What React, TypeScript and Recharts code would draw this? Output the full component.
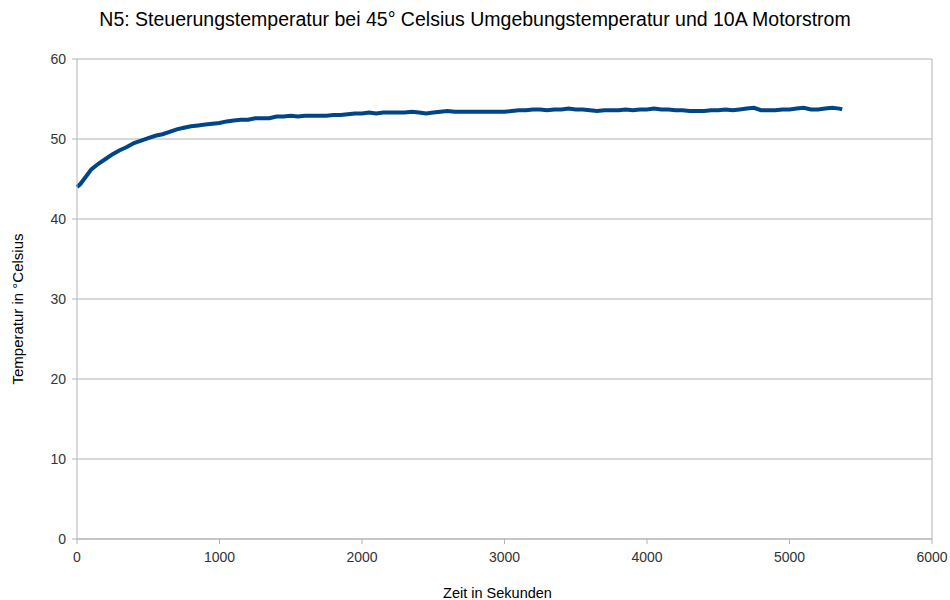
import React from "react";
import { LineChart, Line, XAxis, YAxis, CartesianGrid, ReferenceLine, Label } from "recharts";

const timeSeconds = [
  0, 25, 50, 75, 100, 150, 200, 250, 300, 350, 400, 450, 500, 550, 600, 650, 700, 750, 800, 850,
  900, 950, 1000, 1050, 1100, 1150, 1200, 1250, 1300, 1350, 1400, 1450, 1500, 1550, 1600, 1650,
  1700, 1750, 1800, 1850, 1900, 1950, 2000, 2050, 2100, 2150, 2200, 2250, 2300, 2350, 2400, 2450,
  2500, 2550, 2600, 2650, 2700, 2750, 2800, 2850, 2900, 2950, 3000, 3050, 3100, 3150, 3200, 3250,
  3300, 3350, 3400, 3450, 3500, 3550, 3600, 3650, 3700, 3750, 3800, 3850, 3900, 3950, 4000, 4050,
  4100, 4150, 4200, 4250, 4300, 4350, 4400, 4450, 4500, 4550, 4600, 4650, 4700, 4750, 4800, 4850,
  4900, 4950, 5000, 5050, 5100, 5150, 5200, 5250, 5300, 5350, 5370,
];

const temperature = [
  44.0, 44.4, 45.0, 45.6, 46.2, 46.9, 47.5, 48.1, 48.6, 49.0, 49.5, 49.8, 50.1, 50.4, 50.6, 50.9, 51.2, 51.4, 51.6, 51.7,
  51.8, 51.9, 52.0, 52.2, 52.3, 52.4, 52.4, 52.6, 52.6, 52.6, 52.8, 52.8, 52.9, 52.8, 52.9, 52.9,
  52.9, 52.9, 53.0, 53.0, 53.1, 53.2, 53.2, 53.3, 53.2, 53.3, 53.3, 53.3, 53.3, 53.4, 53.3, 53.2,
  53.3, 53.4, 53.5, 53.4, 53.4, 53.4, 53.4, 53.4, 53.4, 53.4, 53.4, 53.5, 53.6, 53.6, 53.7, 53.7,
  53.6, 53.7, 53.7, 53.8, 53.7, 53.7, 53.6, 53.5, 53.6, 53.6, 53.6, 53.7, 53.6, 53.7, 53.7, 53.8,
  53.7, 53.7, 53.6, 53.6, 53.5, 53.5, 53.5, 53.6, 53.6, 53.7, 53.6, 53.7, 53.8, 53.9, 53.6, 53.6,
  53.6, 53.7, 53.7, 53.8, 53.9, 53.7, 53.7, 53.8, 53.9, 53.8, 53.7,
];

const xTicks = [0, 1000, 2000, 3000, 4000, 5000, 6000];
const yTicks = [0, 10, 20, 30, 40, 50, 60];

const title = "N5: Steuerungstemperatur bei 45° Celsius Umgebungstemperatur und 10A Motorstrom";
const xLabel = "Zeit in Sekunden";
const yLabel = "Temperatur in °Celsius";

const data = timeSeconds.map((t, i) => ({ t, temp: temperature[i] }));

const FONT = "'Liberation Sans', Arial, sans-serif";
const GRID = "#b3b3b3";

const XLabelContent = (props: any) => {
  const vb = props.viewBox || {};
  return (
    <text
      x={vb.x + vb.width / 2 - 7}
      y={vb.y + vb.height - 2}
      textAnchor="middle"
      fill="#000"
      fontSize={14.5}
      fontFamily={FONT}
    >
      {xLabel}
    </text>
  );
};

const YLabelContent = (props: any) => {
  const vb = props.viewBox || {};
  const x = vb.x + 23;
  const y = vb.y + vb.height / 2 + 10;
  return (
    <text
      x={x}
      y={y}
      transform={`rotate(-90, ${x}, ${y})`}
      textAnchor="middle"
      fill="#000"
      fontSize={15}
      fontFamily={FONT}
    >
      {yLabel}
    </text>
  );
};

export default function App() {
  return (
    <div style={{ position: "absolute", left: 0, top: 0, width: 950, height: 600, background: "#fff" }}>
      <div
        style={{
          position: "absolute",
          top: 8,
          left: 0,
          width: 950,
          textAlign: "center",
          fontFamily: FONT,
          fontSize: 19.5,
          lineHeight: "normal",
          color: "#000",
        }}
      >
        {title}
      </div>
      <LineChart width={950} height={600} data={data} margin={{ top: 59, right: 18, bottom: 0, left: 0 }}>
        <CartesianGrid horizontal={true} vertical={false} stroke={GRID} />
        <XAxis
          dataKey="t"
          type="number"
          domain={[0, 6000]}
          ticks={xTicks}
          interval={0}
          height={61}
          tickSize={5}
          tickMargin={8}
          stroke={GRID}
          tick={{ fill: "#333", fontSize: 14, fontFamily: FONT }}
        >
          <Label content={XLabelContent} />
        </XAxis>
        <YAxis
          type="number"
          domain={[0, 60]}
          ticks={yTicks}
          interval={0}
          width={77}
          tickSize={5}
          tickMargin={6}
          stroke={GRID}
          tick={{ fill: "#333", fontSize: 14, fontFamily: FONT }}
        >
          <Label content={YLabelContent} />
        </YAxis>
        <ReferenceLine x={6000} stroke={GRID} />
        <Line
          type="linear"
          dataKey="temp"
          stroke="#004586"
          strokeWidth={4}
          dot={false}
          isAnimationActive={false}
        />
      </LineChart>
    </div>
  );
}
